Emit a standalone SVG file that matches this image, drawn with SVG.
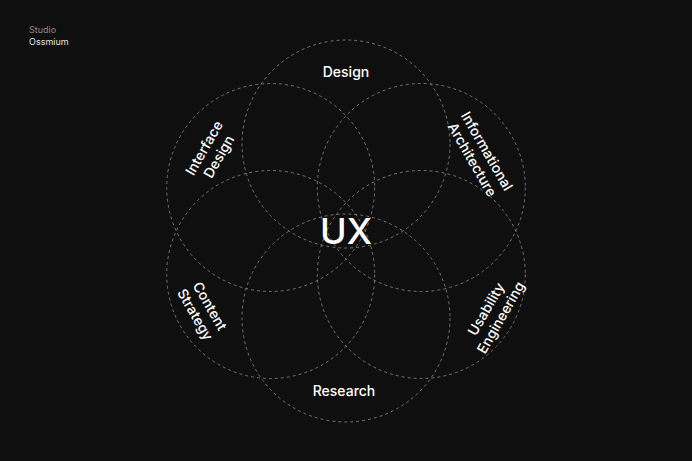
<svg xmlns="http://www.w3.org/2000/svg" width="692" height="461" viewBox="0 0 692 461">
<style>
.c{fill:none;stroke:#8a8a8a;stroke-width:0.8;stroke-dasharray:3 3}
.t{font-family:Inter,"Liberation Sans",sans-serif;fill:#fff;font-size:14px;font-weight:500;text-anchor:middle}
.s{font-family:Inter,"Liberation Sans",sans-serif;font-size:9px}
</style>
<rect width="692" height="461" fill="#0f0f0f"/>
<text class="s" x="29" y="33" fill="#8a8a8a">Studio</text>
<text class="s" x="29" y="45" fill="#e0e0e0">Ossmium</text>
<g id="connectors">
<circle class="c" cx="346" cy="144" r="104"/>
<circle class="c" cx="346" cy="318" r="104"/>
<circle class="c" cx="270.7" cy="187.5" r="104"/>
<circle class="c" cx="421.3" cy="187.5" r="104"/>
<circle class="c" cx="270.7" cy="274.5" r="104"/>
<circle class="c" cx="421.3" cy="274.5" r="104"/>
</g>
<g id="ux"><text class="t" x="346" y="244" style="font-size:36px">UX</text></g>
<g id="design"><text class="t" x="346" y="77">Design</text></g>
<g id="research"><text class="t" x="344" y="396">Research</text></g>
<g id="interface" transform="translate(211,152) rotate(-60)"><text class="t" y="-3">Interface</text><text class="t" y="14">Design</text></g>
<g id="info" transform="translate(480,155) rotate(60)"><text class="t" y="-3">Informational</text><text class="t" y="14">Architecture</text></g>
<g id="content" transform="translate(203,310) rotate(60)"><text class="t" y="-3">Content</text><text class="t" y="14">Strategy</text></g>
<g id="usability" transform="translate(493,313) rotate(-60)"><text class="t" y="-3">Usability</text><text class="t" y="14">Engineering</text></g>
</svg>
